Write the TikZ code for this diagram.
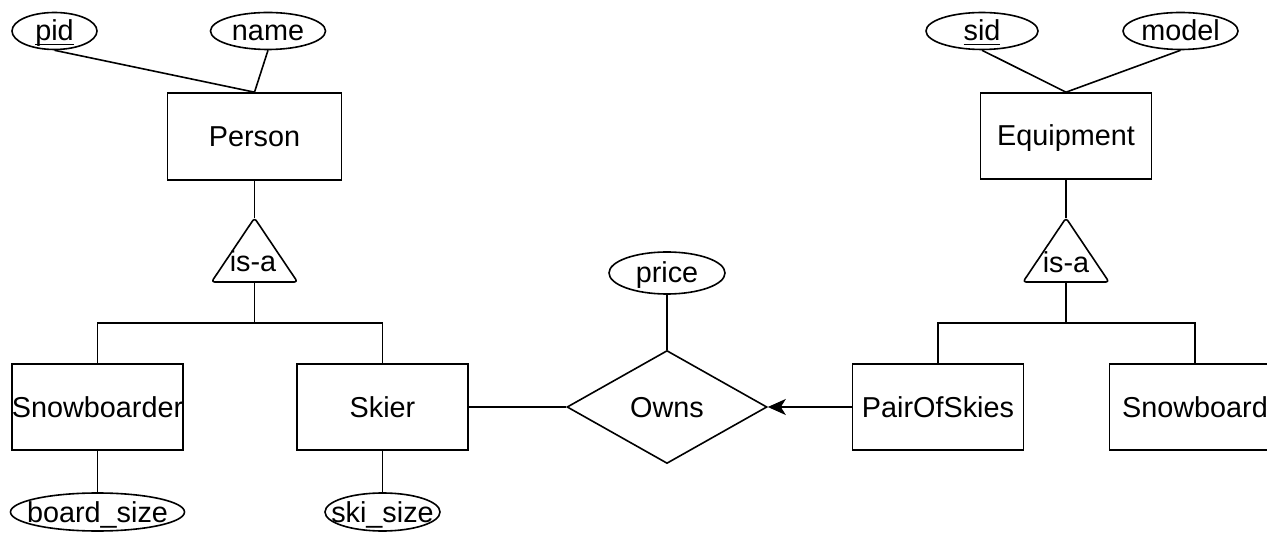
\documentclass[tikz,border=0pt]{standalone}
\usepackage{fontspec}
\setmainfont{Liberation Sans}
\usetikzlibrary{shapes.geometric,arrows.meta}
\newcommand\keyul[1]{\setbox0\hbox{#1}\rlap{\rule[-2.2pt]{\wd0}{0.9pt}}#1}
\begin{document}
\begin{tikzpicture}[x=0.5pt,y=-0.5pt,
  every node/.style={font=\fontsize{14.4}{16}\selectfont, text height=10pt, text depth=0pt, inner sep=0pt},
  attr/.style={draw, ellipse, line width=0.8pt},
  ent/.style={draw, rectangle, minimum width=85.5pt, minimum height=43pt, line width=0.8pt},
  rel/.style={draw, diamond, minimum width=100pt, minimum height=56.5pt, line width=0.8pt},
  conn/.style={line width=0.8pt},
  isatri/.style={draw, line width=0.8pt, rounded corners=1.5pt, line join=round}]
\fill[white] (0,0) rectangle (1267,533);
\clip (0,0) rectangle (1267,533);

% left side
\node[attr, minimum width=42.5pt, minimum height=18.5pt] (pid) at (54.5,31) {\makebox[0pt]{\keyul{pid}}};
\node[attr, minimum width=57.5pt, minimum height=18.5pt] (name) at (268,31) {\makebox[0pt]{name}};
\node[ent, minimum width=87pt, minimum height=43.5pt] (person) at (254.5,136.5) {Person};
\draw[isatri] (254.5,218) -- (297.5,282) -- (211.5,282) -- cycle;
\coordinate (tlA) at (254.5,218);
\coordinate (tlB) at (254.5,282);
\coordinate (jl) at (254.5,323);
\node (isal) at (253,262) {is-a};
\node[ent] (snowboarder) at (97.5,407) {\makebox[0pt]{Snowboarder}};
\node[ent] (skier) at (382.5,407) {Skier};
\node[attr, minimum width=87pt, minimum height=19pt] (board) at (97.5,512) {\makebox[0pt]{board\_size}};
\node[attr, minimum width=57.5pt, minimum height=19pt] (skisize) at (382.5,512) {\makebox[0pt]{ski\_size}};

% middle
\node[attr, minimum width=58pt, minimum height=21pt] (price) at (667,273) {\makebox[0pt]{price}};
\node[rel] (owns) at (667,407) {Owns};

% right side
\node[attr, minimum width=56pt, minimum height=18.5pt] (sid) at (982,31) {\makebox[0pt]{\keyul{sid}}};
\node[attr, minimum width=57.5pt, minimum height=18.5pt] (model) at (1180.5,31) {\makebox[0pt]{model}};
\node[ent] (equip) at (1066,136) {Equipment};
\draw[isatri] (1066,218) -- (1109,282) -- (1023,282) -- cycle;
\coordinate (trA) at (1066,218);
\coordinate (trB) at (1066,282);
\coordinate (jr) at (1066,323);
\node (isar) at (1066,263) {is-a};
\node[ent] (pos) at (938,407) {PairOfSkies};
\node[ent] (snowboard) at (1195,407) {\makebox[0pt]{Snowboard}};

% connectors
\draw[conn] (pid.south) -- (person.north);
\draw[conn] (name.south) -- (person.north);
\draw[conn] (person.south) -- (tlA);
\draw[conn] (tlB) -- (jl);
\draw[conn] (snowboarder.north) |- (jl) -| (skier.north);
\draw[conn] (snowboarder.south) -- (board.north);
\draw[conn] (skier.south) -- (skisize.north);
\draw[conn] (skier.east) -- (owns.west);
\draw[conn] (price.south) -- (owns.north);
\draw[conn,-{Stealth[length=9pt,width=8pt,inset=2.5pt]}] (pos.west) -- (owns.east);
\draw[conn] (sid.south) -- (equip.north);
\draw[conn] (model.south) -- (equip.north);
\draw[conn] (equip.south) -- (trA);
\draw[conn] (trB) -- (jr);
\draw[conn] (pos.north) |- (jr) -| (snowboard.north);
\end{tikzpicture}
\end{document}
